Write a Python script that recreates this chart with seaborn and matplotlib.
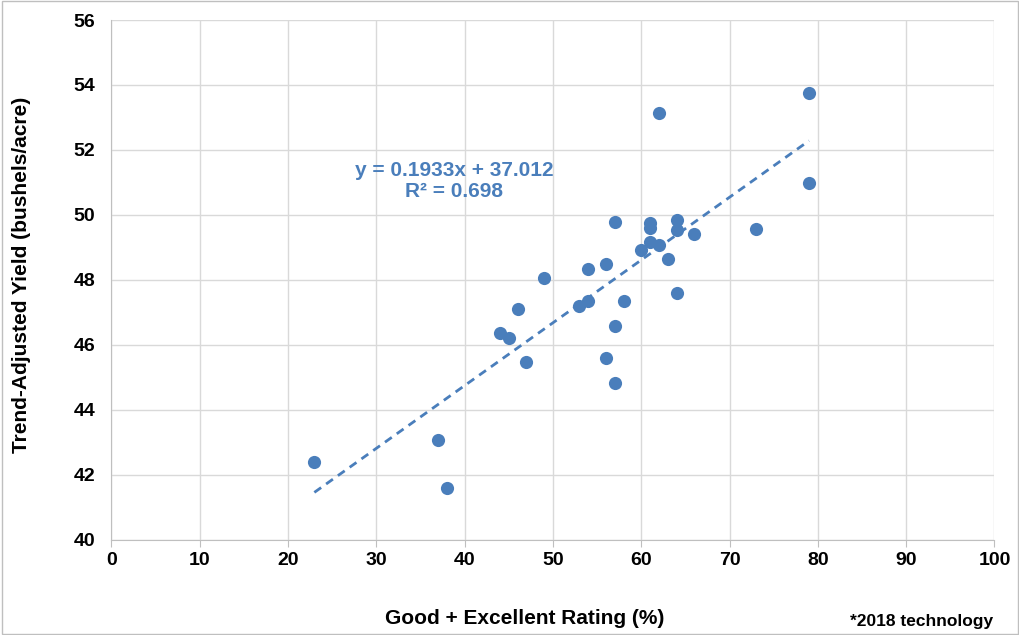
import numpy as np
import pandas as pd
import seaborn as sns
import matplotlib.pyplot as plt

# good+excellent rating (%) vs trend-adjusted yield
rating = [23, 37, 38, 44, 45, 46, 47, 49, 53, 54, 54, 56, 56, 57, 57, 57,
          58, 60, 61, 61, 61, 62, 62, 63, 64, 64, 64, 66, 73, 79, 79]
yld = [42.4, 43.06, 41.58, 46.36, 46.22, 47.1, 45.46, 48.07, 47.19, 47.34, 48.34,
       48.49, 45.58, 49.78, 46.57, 44.82, 47.34, 48.92, 49.74, 49.6, 49.18,
       49.07, 53.13, 48.64, 49.85, 49.54, 47.6, 49.4, 49.56, 53.76, 50.98]

slope = 0.1933
intercept = 37.012
r2 = 0.698

df = pd.DataFrame({'rating': rating, 'yield': yld})

sns.set_style('white')
plt.rcParams['font.family'] = ['Liberation Sans', 'DejaVu Sans']

blue = '#4a7ebb'
fig = plt.figure(figsize=(10.2, 6.35), dpi=100)
ax = fig.add_axes([0.109, 0.150, 0.866, 0.8185])

sns.scatterplot(data=df, x='rating', y='yield', color=blue, s=90,
                edgecolor=blue, linewidth=0, ax=ax, zorder=3)

xs = np.array([min(rating), max(rating)])
ax.plot(xs, slope * xs + intercept, color=blue, lw=2, ls=(0, (3, 2.2)), zorder=2)

ax.text(38.8, 51.36, f'y = {slope}x + {intercept}', color=blue, fontsize=15,
        fontweight='bold', ha='center', va='center')
ax.text(38.8, 50.72, f'R² = {r2}', color=blue, fontsize=15,
        fontweight='bold', ha='center', va='center')

ax.set_xlim(0, 100)
ax.set_ylim(40, 56)
ax.set_xticks(range(0, 101, 10))
ax.set_yticks(range(40, 57, 2))
ax.grid(True, color='#d9d9d9', lw=1)
ax.set_axisbelow(True)
for s in ['top', 'right']:
    ax.spines[s].set_visible(False)
for s in ['left', 'bottom']:
    ax.spines[s].set_color('#bfbfbf')
ax.tick_params(axis='x', bottom=True, length=5, color='#bfbfbf', labelsize=14,
               labelcolor='black', pad=4)
ax.tick_params(axis='y', labelsize=14, labelcolor='black', pad=8)
for lab in ax.get_xticklabels() + ax.get_yticklabels():
    lab.set_fontweight('bold')

ax.set_xlabel('Good + Excellent Rating (%)', fontsize=15, fontweight='bold', color='black')
ax.set_ylabel('Trend-Adjusted Yield (bushels/acre)', fontsize=15, fontweight='bold', color='black')
ax.xaxis.set_label_coords(0.468, -0.133)
ax.yaxis.set_label_coords(-0.091, 0.51)

fig.text(0.974, 0.022, '*2018 technology', fontsize=12.5, fontweight='bold',
         ha='right', va='center', color='black')
fig.patches.append(plt.Rectangle((0.002, 0.002), 0.996, 0.996, transform=fig.transFigure,
                                 fill=False, edgecolor='#bfbfbf', lw=1))

fig.savefig('out.png', dpi=100)
